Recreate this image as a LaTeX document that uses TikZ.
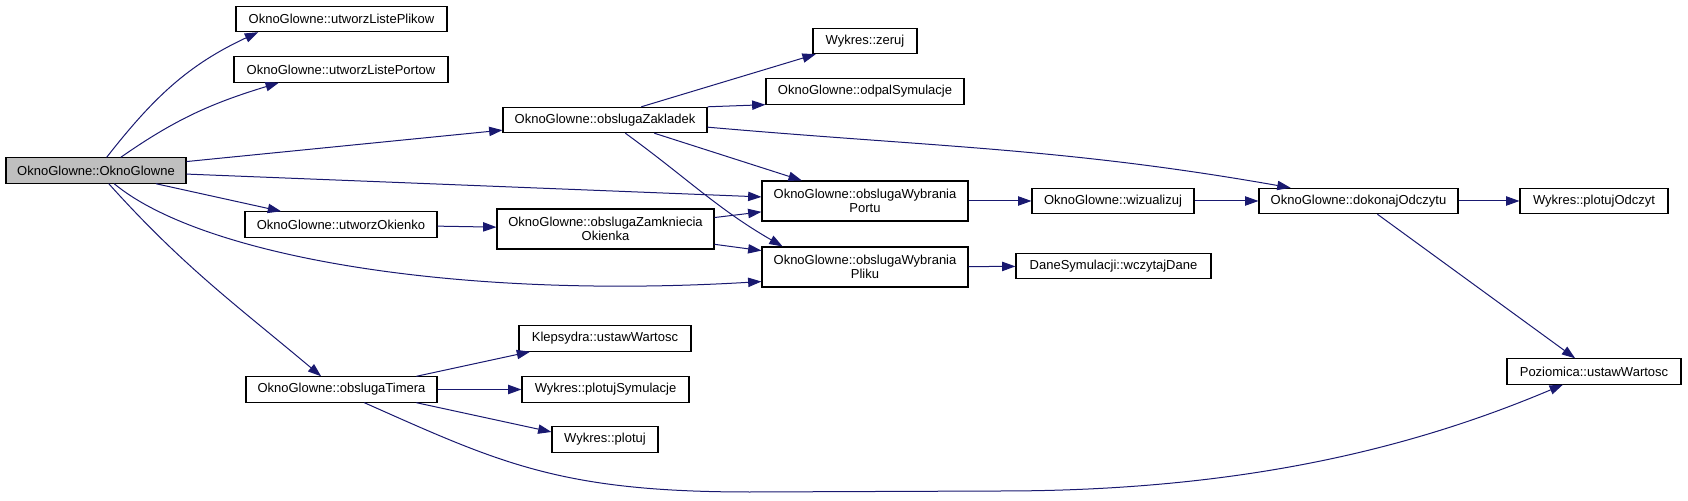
\documentclass[tikz,border=0pt]{standalone}
\usepackage{fontspec}
\setmainfont{Liberation Sans}
\usepackage{xcolor}
\usepackage{tikz}
\usetikzlibrary{arrows.meta}
\definecolor{callblue}{RGB}{25,25,112}
\definecolor{rootgray}{RGB}{191,191,191}

\begin{document}
\begin{tikzpicture}[x=0.75pt, y=0.75pt,
  fn/.style={draw, line width=0.8pt, minimum height=19pt, inner sep=0pt, align=center, font=\fontsize{9.75}{11}\selectfont},
  fntwo/.style={fn, minimum height=30pt},
  rootfn/.style={fn, fill=rootgray},
  call/.style={-{Triangle[length=10pt,width=7pt]}, color=callblue, line width=0.75pt}
]
\useasboundingbox (0,0) rectangle (1688,500);

% Root
\node[rootfn, minimum width=135pt] (main) at (96,329.5) {OknoGlowne::OknoGlowne};

% First level
\node[fn, minimum width=158.25pt] (listaPlikow) at (341.5,481) {OknoGlowne::utworzListePlikow};
\node[fn, minimum width=160.5pt] (listaPortow) at (341,430.5) {OknoGlowne::utworzListePortow};
\node[fn, minimum width=153pt] (zakladki) at (605,380) {OknoGlowne::obslugaZakladek};
\node[fn, minimum width=144pt] (okienko) at (341,275.5) {OknoGlowne::utworzOkienko};
\node[fn, minimum width=143.25pt] (timer) at (341.5,110.5) {OknoGlowne::obslugaTimera};

% Second level
\node[fn, minimum width=78pt] (zeruj) at (865,459) {Wykres::zeruj};
\node[fn, minimum width=148.5pt] (odpal) at (865,408.5) {OknoGlowne::odpalSymulacje};
\node[fntwo, minimum width=154.5pt] (port) at (865,299) {OknoGlowne::obslugaWybrania\\Portu};
\node[fntwo, minimum width=162.75pt] (zamkniecie) at (605.5,271) {OknoGlowne::obslugaZamkniecia\\Okienka};
\node[fntwo, minimum width=154.5pt] (plik) at (865,233) {OknoGlowne::obslugaWybrania\\Pliku};
\node[fn, minimum width=129pt] (klepsydra) at (605,161.5) {Klepsydra::ustawWartosc};
\node[fn, minimum width=125.25pt] (plotujSym) at (605.5,110.5) {Wykres::plotujSymulacje};
\node[fn, minimum width=79.5pt] (plotuj) at (605,60.5) {Wykres::plotuj};

% Right side
\node[fn, minimum width=121.5pt] (wizualizuj) at (1113,299) {OknoGlowne::wizualizuj};
\node[fn, minimum width=146.25pt] (dane) at (1113.5,234) {DaneSymulacji::wczytajDane};
\node[fn, minimum width=149.25pt] (odczyt) at (1358.5,299) {OknoGlowne::dokonajOdczytu};
\node[fn, minimum width=111pt] (plotujOdczyt) at (1594,299) {Wykres::plotujOdczyt};
\node[fn, minimum width=130.5pt] (poziomica) at (1594,128.5) {Poziomica::ustawWartosc};

% Calls from the constructor
\draw[call] (main.51) to[out=52,in=205] (listaPlikow.189);
\draw[call] (main.28.5) to[out=35,in=197] (listaPortow.192);
\draw[call] (main) -- (zakladki);
\draw[call] (main) -- (port);
\draw[call] (main) -- (okienko);
\draw[call] (main.-36) .. controls (200,245) and (450,200) .. (plik.188);
\draw[call] (main.-46) to[out=-48,in=140] (timer.147);

% Calls from obslugaZakladek
\draw[call] (zakladki.20) -- (zeruj.195);
\draw[call] (zakladki.north east) -- (odpal.south west);
\draw[call] (zakladki.-4) to[out=-5,in=170] (odczyt.169);
\draw[call] (zakladki.-15) -- (port.162);
\draw[call] (zakladki.-33) to[out=-36,in=150] (plik.166);

% Window calls
\draw[call] (okienko) -- (zamkniecie);
\draw[call] (zamkniecie.6) -- (port.186);
\draw[call] (zamkniecie.-8) -- (plik.171);

% Reading chain
\draw[call] (port) -- (wizualizuj);
\draw[call] (wizualizuj) -- (odczyt);
\draw[call] (odczyt) -- (plotujOdczyt);
\draw[call] (odczyt.-35) -- (poziomica.145);
\draw[call] (plik) -- (dane);

% Calls from obslugaTimera
\draw[call] (timer.10.6) -- (klepsydra.190);
\draw[call] (timer) -- (plotujSym);
\draw[call] (timer.-10.6) -- (plotuj.172);
\draw[call] (timer.-30) .. controls (500,37) and (560,8) .. (750,8) -- (1000,9) .. controls (1250,9) and (1420,55) .. (poziomica.203);

\end{tikzpicture}
\end{document}
